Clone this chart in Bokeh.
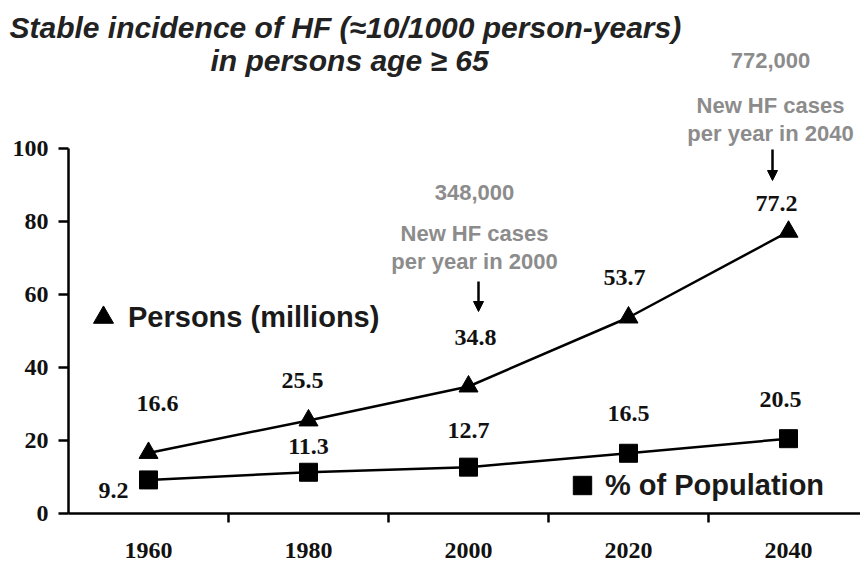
from bokeh.plotting import figure
from bokeh.models import (Range1d, LinearAxis, FixedTicker, Label, Arrow, NormalHead,
                          Legend, LegendItem, ColumnDataSource)
from bokeh.core.properties import value
from bokeh.embed import file_html
from bokeh.resources import INLINE

# ---------------- data ----------------
years = [1960, 1980, 2000, 2020, 2040]
year_labels = ["1960", "1980", "2000", "2020", "2040"]
persons_millions = [16.6, 25.5, 34.8, 53.7, 77.2]
pct_population = [9.2, 11.3, 12.7, 16.5, 20.5]
y_ticks = [0, 20, 40, 60, 80, 100]
boundary_ticks = [1970, 1990, 2010, 2030, 2050]

title_lines = ["Stable incidence of HF (\u224810/1000 person-years)",
               "in persons age \u2265 65"]
note_2000 = ["348,000", "New HF cases", "per year in 2000"]
note_2040 = ["772,000", "New HF cases", "per year in 2040"]

# value-label placement (screen pixel offsets from each point)
persons_dx = [9, -6, 7, -4, -12]
persons_dy = [-49, -40, -49, -40, -28]
pct_dx = [-35, 0, 0, 0, -8]
pct_dy = [11, -26, -37, -40, -39]

# ---------------- layout helpers ----------------
PX_PER_YEAR = 8.0
PX_PER_UNIT = 3.65
W, H = 860, 563
B_LEFT, B_BOTTOM, B_TOP = 68, 50, 44
FRAME_LEFT = B_LEFT
FRAME_BOTTOM = H - B_BOTTOM

def dx(px):
    return 1950 + (px - FRAME_LEFT) / PX_PER_YEAR

def dy(py):
    return (FRAME_BOTTOM - py) / PX_PER_UNIT

x_end = 1950 + (W - B_LEFT) / PX_PER_YEAR
y_end = (H - B_BOTTOM - B_TOP) / PX_PER_UNIT

p = figure(width=W, height=H, x_range=Range1d(1950, x_end), y_range=Range1d(0, y_end),
           output_backend="svg", toolbar_location=None,
           x_axis_type=None, y_axis_type=None,
           min_border_left=B_LEFT, min_border_right=0, min_border_top=B_TOP,
           min_border_bottom=B_BOTTOM)
p.outline_line_color = None
p.background_fill_color = "white"
p.border_fill_color = "white"

# first title line as the figure title (drawn outside the frame, so not clipped)
p.title.text = title_lines[0]
p.title.align = "left"
p.title.offset = 9 - B_LEFT
p.title.standoff = 0
p.title.vertical_align = "middle"
p.title.text_font = "Liberation Sans"
p.title.text_font_style = "bold italic"
p.title.text_font_size = "30px"
p.title.text_color = "#222222"

# axes
xaxis = LinearAxis(ticker=FixedTicker(ticks=years, minor_ticks=boundary_ticks),
                   major_label_overrides={y: l for y, l in zip(years, year_labels)})
xaxis.axis_line_width = 2.5
xaxis.axis_line_color = "black"
xaxis.major_tick_out = 0
xaxis.major_tick_in = 0
xaxis.major_tick_line_alpha = 0
xaxis.minor_tick_out = 9
xaxis.minor_tick_in = 0
xaxis.minor_tick_line_width = 2.5
xaxis.minor_tick_line_color = "black"
xaxis.major_label_standoff = 20
xaxis.major_label_text_font = "Liberation Serif"
xaxis.major_label_text_font_style = "bold"
xaxis.major_label_text_font_size = "24px"
xaxis.major_label_text_color = "#111111"
p.add_layout(xaxis, "below")

yaxis = LinearAxis(ticker=FixedTicker(ticks=y_ticks), bounds=(0, 100))
yaxis.axis_line_width = 2.5
yaxis.axis_line_color = "black"
yaxis.major_tick_out = 10
yaxis.major_tick_in = 0
yaxis.major_tick_line_width = 2.5
yaxis.major_tick_line_color = "black"
yaxis.minor_tick_line_alpha = 0
yaxis.major_label_standoff = 10
yaxis.major_label_text_font = "Liberation Serif"
yaxis.major_label_text_font_style = "bold"
yaxis.major_label_text_font_size = "24px"
yaxis.major_label_text_color = "#111111"
p.add_layout(yaxis, "left")

# series
src_p = ColumnDataSource(dict(x=years, y=persons_millions,
                              lab=[f"{v:.1f}" for v in persons_millions],
                              xo=persons_dx, yo=persons_dy))
src_c = ColumnDataSource(dict(x=years, y=pct_population,
                              lab=[f"{v:.1f}" for v in pct_population],
                              xo=pct_dx, yo=pct_dy))

p.line("x", "y", source=src_p, line_color="black", line_width=2.5)
p.line("x", "y", source=src_c, line_color="black", line_width=2.5)
tri = p.scatter("x", "y", source=src_p, marker="triangle", size=19,
                fill_color="black", line_color="black")
sq = p.scatter("x", "y", source=src_c, marker="square", size=18,
               fill_color="black", line_color="black")

for src in (src_p, src_c):
    p.text("x", "y", text="lab", source=src, x_offset="xo", y_offset="yo",
           text_font=value("Liberation Serif"), text_font_style="bold",
           text_font_size="24px", text_color="#111111",
           text_align="center", text_baseline="middle")

# legends (keys)
leg1 = Legend(items=[LegendItem(label="Persons (millions)", renderers=[tri])],
              location=(10, 171), glyph_width=50, glyph_height=50,
              label_standoff=-7, padding=0, margin=0, spacing=0,
              background_fill_alpha=0, border_line_alpha=0,
              label_text_font="Liberation Sans", label_text_font_style="bold",
              label_text_font_size="29px", label_text_color="#1a1a1a")
leg2 = Legend(items=[LegendItem(label="% of Population", renderers=[sq])],
              location=(491, 5), glyph_width=46, glyph_height=46,
              label_standoff=-1, padding=0, margin=0, spacing=0,
              background_fill_alpha=0, border_line_alpha=0,
              label_text_font="Liberation Sans", label_text_font_style="bold",
              label_text_font_size="29px", label_text_color="#1a1a1a")
p.add_layout(leg1, "center")
p.add_layout(leg2, "center")

# second title line
p.add_layout(Label(x=dx(349), y=dy(60), text=title_lines[1], text_align="center",
                   text_baseline="middle", text_font="Liberation Sans",
                   text_font_style="bold italic", text_font_size="30px",
                   text_color="#222222"))

# grey notes
for lines, cx, ys in ((note_2000, 474, [192, 233, 261]), (note_2040, 770, [60, 105, 133])):
    for txt, py in zip(lines, ys):
        p.add_layout(Label(x=dx(cx), y=dy(py), text=txt, text_align="center",
                           text_baseline="middle", text_font="Liberation Sans",
                           text_font_style="bold", text_font_size="22px",
                           text_color="#8c8c8c"))

for ax, y0, y1 in ((478, 281, 311), (772, 149, 180)):
    p.add_layout(Arrow(end=NormalHead(size=10, fill_color="black", line_color="black"),
                       x_start=dx(ax), y_start=dy(y0), x_end=dx(ax), y_end=dy(y1),
                       line_color="black", line_width=2.5))

open("out.html", "w").write(file_html(p, INLINE))
